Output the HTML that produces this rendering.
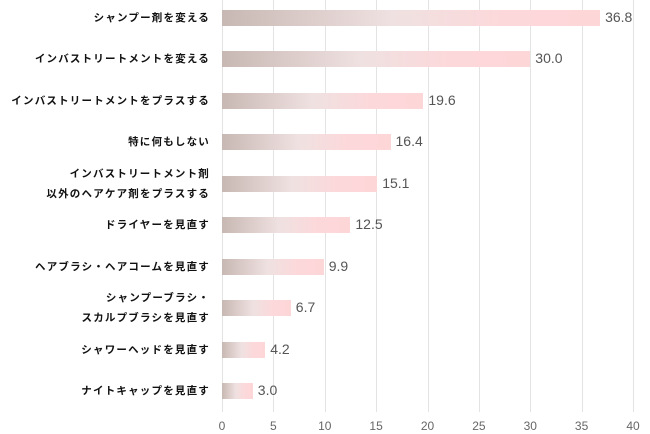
<!DOCTYPE html>
<html><head><meta charset="utf-8"><style>
body{margin:0;background:#fff;width:650px;height:434px;overflow:hidden;position:relative;font-family:"Liberation Sans","Noto Sans CJK JP",sans-serif}
.g{position:absolute;top:0;height:412px;width:1px;background:#e3e3e3}
.b{position:absolute;left:222px;height:16px}
.v{position:absolute;font-size:14px;color:#555}
.l{position:absolute;right:440px;font-size:10.5px;font-weight:bold;color:#111;text-align:right;letter-spacing:1.2px;line-height:20px;white-space:nowrap}
.t{position:absolute;top:419px;font-size:12px;color:#666;width:30px;text-align:center}
</style></head><body>
<div id="c"></div>
<script>
var c=document.getElementById('c'),h='';
for(var i=0;i<=8;i++){var x=222+i*51.375;h+='<div class="g" style="left:'+x.toFixed(1)+'px"></div><div class="t" style="left:'+(x-15).toFixed(1)+'px">'+i*5+'</div>';}
var d=[["シャンプー剤を変える",36.8],["インバストリートメントを変える",30.0],["インバストリートメントをプラスする",19.6],["特に何もしない",16.4],["インバストリートメント剤<br>以外のヘアケア剤をプラスする",15.1],["ドライヤーを見直す",12.5],["ヘアブラシ・ヘアコームを見直す",9.9],["シャンプーブラシ・<br>スカルプブラシを見直す",6.7],["シャワーヘッドを見直す",4.2],["ナイトキャップを見直す",3.0]];
d.forEach(function(r,i){var cy=17.5+i*41.55,w=r[1]*10.275;
h+='<div class="b" style="top:'+(cy-8).toFixed(1)+'px;width:'+w.toFixed(1)+'px;background:linear-gradient(90deg,#c8b8b3 0%,#efe1e1 45%,#fdd8da 75%,#fdd6d8 100%)"></div>';
h+='<div class="v" style="left:'+(222+w+5).toFixed(1)+'px;top:'+(cy-9).toFixed(1)+'px">'+r[1].toFixed(1)+'</div>';
var two=r[0].indexOf('<br>')>0;
h+='<div class="l" style="top:'+(cy-(two?20:10)).toFixed(1)+'px">'+r[0]+'</div>';});
c.innerHTML=h;
</script>
</body></html>
